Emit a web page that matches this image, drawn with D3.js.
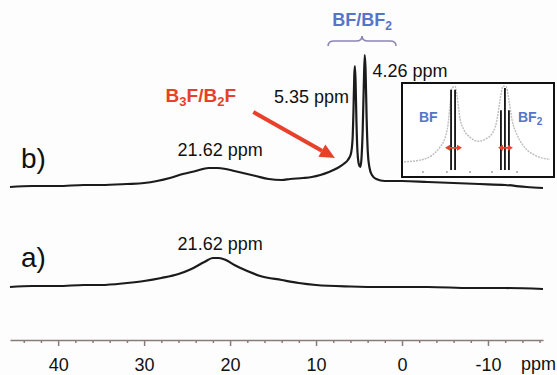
<!DOCTYPE html>
<html>
<head>
<meta charset="utf-8">
<script src="https://cdn.jsdelivr.net/npm/d3@7"></script>
<style>
  html, body { margin: 0; padding: 0; background: #fdfdfd; }
  svg { display: block; font-family: "Liberation Sans", Arial, sans-serif; }
</style>
</head>
<body>
<div id="chart"></div>
<script>
// axis ticks (ppm)
const majorTicks = [40, 30, 20, 10, 0, -10];
const minorTicks = d3.range(44, -17, -2).filter(d => d % 10 !== 0);

// trace b) : ppm / intensity (arbitrary units)
const bPpm = [45.6, 43, 40, 37, 35, 32, 30, 28.5, 27, 25.5, 24, 22.5, 21.5, 20.5, 19.5, 18.5, 17, 15.5, 14, 13, 11.5, 10.5, 9.5, 8.5, 7.5, 6.8, 6.3, 5.95, 5.75, 5.65, 5.55, 5.48, 5.4, 5.3, 5.18, 5.0, 4.85, 4.72, 4.58, 4.45, 4.34, 4.24, 4.12, 3.98, 3.8, 3.5, 3.0, 2.0, 0, -3, -6, -9, -12, -14.5, -16.4];
const bInt = [0, 1, 1, 2, 2, 3, 4, 6, 9, 13, 16, 19, 19, 18, 16, 14, 11, 8, 7, 8, 9, 10, 12, 15, 19, 23, 27, 33, 48, 75, 112, 121, 105, 65, 35, 22, 20, 28, 55, 100, 132, 118, 70, 35, 20, 12, 8, 6, 6, 5, 4, 3, 2, 0, -1];

// trace a)
const aPpm = [45.6, 43, 40, 37, 35, 32, 30, 28, 26, 24.5, 23, 22, 21.3, 20.5, 19.5, 18, 16.5, 14, 12, 10, 6, 2, -3, -8, -12, -16.4];
const aInt = [0, 1, 1, 2, 2, 4, 6, 9, 13, 18, 25, 29, 29, 27, 22, 16, 11, 7, 4, 2, 0.5, 0, 0, -1, -1, -2];

// inset (relative units 0-100)
const insetX = [0, 10.8, 18.9, 24.3, 27.7, 29.7, 31.1, 32.4, 34.5, 35.8, 37.8, 40.5, 44.6, 50, 55.4, 60.1, 62.8, 64.9, 66.9, 68.9, 70.9, 73, 76.4, 81.8, 88.5, 98.6];
const insetY = [10, 12, 18, 28, 39, 55, 79, 100, 102, 91, 63, 49, 40, 35, 38, 46, 61, 85, 102, 102, 85, 61, 43, 27, 18, 13];
const insetSticksX = [31.8, 34.5, 65.5, 68.2, 70.9];
const insetSticksH = [98, 98, 73, 100, 73];
const insetArrows = [[27.7, 33.2, 39.2], [63.5, 68.2, 73.6]];
const insetMarks = [12.8, 29, 44.6, 59.5, 76.4];

const braceRange = [8.6, 0.7];
const arrowFrom = [17.3, 75], arrowTo = [7.8, 29];

const W = 557, H = 375;
const svg = d3.select("#chart").append("svg").attr("width", W).attr("height", H);
svg.append("rect").attr("width", W).attr("height", H).attr("fill", "#fdfdfd");

const x = d3.scaleLinear().domain([45.6, -16.4]).range([10, 543]);
const yB = d3.scaleLinear().domain([0, 130]).range([187, 57]);
const yA = d3.scaleLinear().domain([0, 130]).range([287, 157]);

// x axis
const axisY = 340;
const gAx = svg.append("g").attr("transform", `translate(0,${axisY})`)
  .call(d3.axisBottom(x).tickValues(majorTicks).tickSize(6).tickSizeOuter(0).tickPadding(12).tickFormat(d => d));
gAx.append("g").call(d3.axisBottom(x).tickValues(minorTicks).tickSize(3).tickSizeOuter(0).tickFormat(""))
  .select(".domain").remove();
gAx.selectAll("path, line").attr("stroke", "#8a7b7b").attr("stroke-width", 1.5);
gAx.selectAll("text").attr("font-size", 18).attr("fill", "#111").attr("font-family", "Liberation Sans, Arial, sans-serif");
svg.append("text").attr("x", 521).attr("y", 370).attr("font-size", 18).attr("fill", "#111").text("ppm");

// traces
const line = (ys) => d3.line().x(d => x(d[0])).y(d => ys(d[1])).curve(d3.curveMonotoneX);
svg.append("path").datum(d3.zip(bPpm, bInt)).attr("d", line(yB))
  .attr("fill", "none").attr("stroke", "#1b1b1b").attr("stroke-width", 2.2);
svg.append("path").datum(d3.zip(aPpm, aInt)).attr("d", line(yA))
  .attr("fill", "none").attr("stroke", "#1b1b1b").attr("stroke-width", 2.2);

// trace labels
svg.append("text").attr("x", 21).attr("y", 168).attr("font-size", 28).attr("fill", "#111").text("b)");
svg.append("text").attr("x", 21).attr("y", 267).attr("font-size", 28).attr("fill", "#111").text("a)");
svg.append("text").attr("x", x(21.62) + 4).attr("y", 156).attr("text-anchor", "middle").attr("font-size", 18).attr("fill", "#111").text("21.62 ppm");
svg.append("text").attr("x", x(21.62) + 4).attr("y", 250).attr("text-anchor", "middle").attr("font-size", 18).attr("fill", "#111").text("21.62 ppm");
svg.append("text").attr("x", x(5.35) - 7).attr("y", 103).attr("text-anchor", "end").attr("font-size", 18).attr("fill", "#111").text("5.35 ppm");
svg.append("text").attr("x", x(4.26) + 7).attr("y", 77).attr("font-size", 18).attr("fill", "#111").text("4.26 ppm");

// B3F/B2F label (red)
const red = "#e8402a";
const t1 = svg.append("text").attr("x", 236).attr("y", 102).attr("text-anchor", "end")
  .attr("font-size", 19).attr("font-weight", "bold").attr("fill", red);
t1.append("tspan").text("B");
t1.append("tspan").attr("font-size", 13).attr("dy", 4).text("3");
t1.append("tspan").attr("dy", -4).text("F/B");
t1.append("tspan").attr("font-size", 13).attr("dy", 4).text("2");
t1.append("tspan").attr("dy", -4).text("F");

// red arrow
const ax0 = x(arrowFrom[0]), ay0 = yB(arrowFrom[1]), ax1 = x(arrowTo[0]), ay1 = yB(arrowTo[1]);
const ang = Math.atan2(ay1 - ay0, ax1 - ax0);
const hl = 15, hw = 7;
const bx = ax1 - hl * Math.cos(ang), by = ay1 - hl * Math.sin(ang);
svg.append("line").attr("x1", ax0).attr("y1", ay0).attr("x2", bx).attr("y2", by)
  .attr("stroke", red).attr("stroke-width", 4);
svg.append("path").attr("fill", red).attr("d",
  `M${ax1},${ay1}L${bx + hw * Math.sin(ang)},${by - hw * Math.cos(ang)}L${bx - hw * Math.sin(ang)},${by + hw * Math.cos(ang)}Z`);

// BF/BF2 label + brace (blue)
const blue = "#5575c9";
const bx0 = x(braceRange[0]), bx1 = x(braceRange[1]), bm = (bx0 + bx1) / 2;
const t2 = svg.append("text").attr("x", bm).attr("y", 26).attr("text-anchor", "middle")
  .attr("font-size", 18).attr("font-weight", "bold").attr("fill", blue);
t2.append("tspan").text("BF/BF");
t2.append("tspan").attr("font-size", 12).attr("dy", 4).text("2");
const bp = d3.path();
bp.moveTo(bx0, 46); bp.quadraticCurveTo(bx0, 41, bx0 + 6, 41); bp.lineTo(bm - 6, 41);
bp.quadraticCurveTo(bm, 41, bm, 36); bp.quadraticCurveTo(bm, 41, bm + 6, 41);
bp.lineTo(bx1 - 6, 41); bp.quadraticCurveTo(bx1, 41, bx1, 46);
svg.append("path").attr("d", bp.toString()).attr("fill", "none").attr("stroke", "#8d84b8").attr("stroke-width", 1.6);

// inset
const ix = d3.scaleLinear().domain([0, 100]).range([404, 552]);
const iy = d3.scaleLinear().domain([0, 100]).range([170, 88]);
const inset = svg.append("g");
inset.append("rect").attr("x", 402).attr("y", 83).attr("width", 152).attr("height", 94)
  .attr("fill", "#fff").attr("stroke", "#111").attr("stroke-width", 2);
inset.append("clipPath").attr("id", "ic").append("rect").attr("x", 403).attr("y", 84).attr("width", 150).attr("height", 92);
const ig = inset.append("g").attr("clip-path", "url(#ic)");
ig.append("path").datum(d3.zip(insetX, insetY))
  .attr("d", d3.line().x(d => ix(d[0])).y(d => iy(d[1])).curve(d3.curveMonotoneX))
  .attr("fill", "none").attr("stroke", "#bdbdbd").attr("stroke-width", 1.4).attr("stroke-dasharray", "2,1");
ig.selectAll("line.stick").data(d3.zip(insetSticksX, insetSticksH)).join("line")
  .attr("x1", d => ix(d[0])).attr("x2", d => ix(d[0])).attr("y1", iy(0)).attr("y2", d => iy(d[1]))
  .attr("stroke", "#111").attr("stroke-width", 1.8);
ig.selectAll("circle.mk").data(insetMarks).join("circle")
  .attr("cx", d => ix(d)).attr("cy", 172).attr("r", 0.9).attr("fill", "#999");
insetArrows.forEach(a => {
  const yy = iy(27);
  [[a[1], a[0]], [a[1], a[2]]].forEach(s => {
    const dir = Math.sign(s[1] - s[0]);
    const xe = ix(s[1]);
    ig.append("line").attr("x1", ix(s[0])).attr("x2", xe - dir * 3).attr("y1", yy).attr("y2", yy)
      .attr("stroke", red).attr("stroke-width", 1.8);
    ig.append("path").attr("fill", red).attr("d", `M${xe},${yy}L${xe - dir * 5},${yy - 3}L${xe - dir * 5},${yy + 3}Z`);
  });
});
inset.append("text").attr("x", 419).attr("y", 122).attr("font-size", 14).attr("font-weight", "bold").attr("fill", blue).text("BF");
const t3 = inset.append("text").attr("x", 518).attr("y", 122).attr("font-size", 14).attr("font-weight", "bold").attr("fill", blue);
t3.append("tspan").text("BF");
t3.append("tspan").attr("font-size", 10).attr("dy", 3).text("2");
</script>
</body>
</html>
